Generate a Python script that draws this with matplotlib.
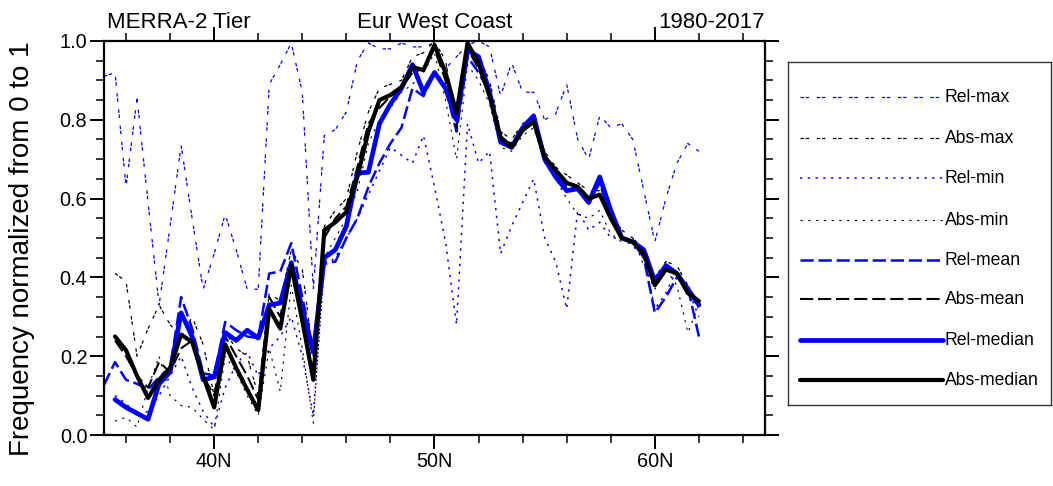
import numpy as np
import matplotlib
matplotlib.use("Agg")
import matplotlib.pyplot as plt

plt.rcParams['font.family'] = ['Liberation Sans', 'DejaVu Sans']
plt.rcParams['lines.scale_dashes'] = False

nan = np.nan

# latitude grid (degrees N), 0.5 deg spacing
lat = [35.0, 35.5, 36.0, 36.5, 37.0, 37.5, 38.0, 38.5, 39.0, 39.5,
       40.0, 40.5, 41.0, 41.5, 42.0, 42.5, 43.0, 43.5, 44.0, 44.5,
       45.0, 45.5, 46.0, 46.5, 47.0, 47.5, 48.0, 48.5, 49.0, 49.5,
       50.0, 50.5, 51.0, 51.5, 52.0, 52.5, 53.0, 53.5, 54.0, 54.5,
       55.0, 55.5, 56.0, 56.5, 57.0, 57.5, 58.0, 58.5, 59.0, 59.5,
       60.0, 60.5, 61.0, 61.5, 62.0]

rel_max = [0.91, 0.92, 0.63, 0.855, 0.59, 0.33, 0.53, 0.735, 0.55, 0.37,
           0.46, 0.56, 0.47, 0.37, 0.37, 0.89, 0.94, 0.995, 0.87, 0.37,
           0.76, 0.775, 0.82, 0.95, 0.995, 0.98, 0.98, 0.995, 0.985, 0.985,
           0.995, 0.93, 0.96, 0.99, 1.0, 0.985, 0.86, 0.945, 0.87, 0.87,
           0.80, 0.815, 0.89, 0.75, 0.70, 0.81, 0.78, 0.79, 0.75, 0.62,
           0.49, 0.60, 0.69, 0.74, 0.72]

abs_max = [nan, 0.41, 0.39, 0.20, 0.27, 0.33, 0.28, 0.25, 0.30, 0.23,
           0.10, 0.26, 0.22, 0.20, 0.10, 0.36, 0.34, 0.47, 0.42, 0.20,
           0.53, 0.57, 0.60, 0.72, 0.82, 0.88, 0.89, 0.90, 0.96, 0.97,
           1.0, 0.95, 0.80, 0.99, 0.96, 0.90, 0.77, 0.75, 0.79, 0.81,
           0.72, 0.68, 0.66, 0.64, 0.62, 0.62, 0.56, 0.52, 0.50, 0.47,
           0.40, 0.44, 0.43, 0.38, 0.33]

rel_min = [nan, 0.10, 0.08, 0.05, 0.06, 0.10, 0.15, 0.20, 0.12, 0.06,
           0.02, 0.12, 0.18, 0.21, 0.15, 0.22, 0.25, 0.30, 0.20, 0.05,
           0.43, 0.45, 0.50, 0.55, 0.61, 0.67, 0.73, 0.71, 0.69, 0.76,
           0.63, 0.49, 0.28, 0.79, 0.69, 0.72, 0.46, 0.53, 0.59, 0.65,
           0.50, 0.44, 0.32, 0.57, 0.52, 0.54, 0.50, 0.50, 0.48, 0.45,
           0.32, 0.36, 0.42, 0.37, 0.30]

abs_min = [nan, 0.035, 0.045, 0.02, 0.12, 0.20, 0.10, 0.075, 0.07, 0.04,
           0.013, 0.20, 0.16, 0.10, 0.05, 0.22, 0.11, 0.38, 0.22, 0.03,
           0.45, 0.50, 0.55, 0.62, 0.74, 0.80, 0.83, 0.87, 0.89, 0.92,
           0.97, 0.85, 0.70, 0.94, 0.90, 0.84, 0.73, 0.72, 0.76, 0.78,
           0.69, 0.65, 0.60, 0.56, 0.55, 0.57, 0.51, 0.49, 0.50, 0.43,
           0.37, 0.42, 0.38, 0.26, 0.33]

rel_mean = [0.127, 0.185, 0.14, 0.13, 0.115, 0.147, 0.17, 0.35, 0.27, 0.157,
            0.15, 0.287, 0.266, 0.25, 0.246, 0.41, 0.415, 0.487, 0.35, 0.216,
            0.437, 0.44, 0.50, 0.55, 0.63, 0.69, 0.74, 0.78, 0.88, 0.86,
            0.92, 0.88, 0.77, 0.96, 0.92, 0.87, 0.74, 0.73, 0.77, 0.80,
            0.70, 0.66, 0.63, 0.63, 0.59, 0.64, 0.55, 0.50, 0.49, 0.45,
            0.31, 0.35, 0.40, 0.375, 0.25]

abs_mean = [nan, 0.24, 0.20, 0.15, 0.12, 0.185, 0.16, 0.22, 0.24, 0.15,
            0.10, 0.25, 0.20, 0.15, 0.09, 0.35, 0.30, 0.44, 0.30, 0.16,
            0.50, 0.55, 0.58, 0.68, 0.79, 0.83, 0.86, 0.88, 0.92, 0.93,
            0.98, 0.90, 0.78, 0.98, 0.93, 0.86, 0.75, 0.74, 0.78, 0.80,
            0.71, 0.67, 0.64, 0.63, 0.60, 0.61, 0.55, 0.50, 0.49, 0.46,
            0.39, 0.42, 0.41, 0.36, 0.34]

rel_median = [nan, 0.09, 0.07, 0.055, 0.04, 0.13, 0.16, 0.31, 0.25, 0.14,
              0.147, 0.26, 0.24, 0.266, 0.246, 0.33, 0.335, 0.437, 0.32, 0.21,
              0.45, 0.47, 0.53, 0.665, 0.667, 0.79, 0.84, 0.88, 0.94, 0.87,
              0.92, 0.88, 0.80, 0.977, 0.96, 0.87, 0.744, 0.73, 0.78, 0.81,
              0.70, 0.655, 0.62, 0.625, 0.59, 0.655, 0.57, 0.50, 0.49, 0.47,
              0.39, 0.43, 0.41, 0.37, 0.33]

abs_median = [nan, 0.25, 0.215, 0.15, 0.094, 0.14, 0.17, 0.255, 0.236, 0.15,
              0.07, 0.23, 0.17, 0.115, 0.063, 0.32, 0.27, 0.43, 0.29, 0.14,
              0.52, 0.54, 0.566, 0.655, 0.77, 0.85, 0.863, 0.883, 0.934, 0.926,
              0.99, 0.92, 0.817, 0.995, 0.944, 0.86, 0.756, 0.73, 0.774, 0.795,
              0.706, 0.672, 0.64, 0.63, 0.60, 0.61, 0.55, 0.50, 0.49, 0.46,
              0.38, 0.42, 0.41, 0.36, 0.34]

labels = ["Rel-max", "Abs-max", "Rel-min", "Abs-min",
          "Rel-mean", "Abs-mean", "Rel-median", "Abs-median"]
series = [rel_max, abs_max, rel_min, abs_min,
          rel_mean, abs_mean, rel_median, abs_median]

blue = "#0000ff"
styles = [
    dict(color=blue, lw=0.9, dashes=(2.5, 1.2, 2.5, 5.5)),
    dict(color="black", lw=0.9, dashes=(2.5, 1.2, 2.5, 5.5)),
    dict(color=blue, lw=1.1, dashes=(1.6, 4.0)),
    dict(color="black", lw=0.8, dashes=(1.6, 4.0)),
    dict(color=blue, lw=1.8, dashes=(9.5, 3.5)),
    dict(color="black", lw=1.5, dashes=(9.5, 3.5)),
    dict(color=blue, lw=3.4, solid_capstyle="round"),
    dict(color="black", lw=3.0, solid_capstyle="round"),
]

W, H = 1053, 486
fig = plt.figure(figsize=(W / 100, H / 100), dpi=100)
ax = fig.add_axes([104 / W, 1 - 435 / H, (765 - 104) / W, (435 - 41) / H])

for s, st in zip(series, styles):
    ax.plot(lat, s, **st)

ax.set_xlim(35, 65)
ax.set_ylim(0, 1)
ax.set_xticks([40, 50, 60])
ax.set_xticklabels(["40N", "50N", "60N"])
ax.set_xticks(np.arange(36, 65, 2), minor=True)
ax.set_yticks([0.0, 0.2, 0.4, 0.6, 0.8, 1.0])
ax.set_yticklabels(["0.0", "0.2", "0.4", "0.6", "0.8", "1.0"])
ax.set_yticks(np.arange(0.05, 1.0, 0.05), minor=True)
ax.tick_params(which="both", direction="out", top=True, right=True,
               width=1.4, labelsize=14.3)
ax.tick_params(which="major", length=10, pad=2)
ax.tick_params(which="minor", length=5.8, width=1.1)
for sp in ax.spines.values():
    sp.set_linewidth(1.6)

fig.text(22 / W, 1 - 249 / H, "Frequency normalized from 0 to 1",
         rotation=90, fontsize=20, ha="center", va="center")
ty = 1 + 13 / 394
ax.text(0.005, ty, "MERRA-2 Tier", transform=ax.transAxes, fontsize=16,
        ha="left", va="baseline")
ax.text(0.5, ty, "Eur West Coast", transform=ax.transAxes, fontsize=16,
        ha="center", va="baseline")
ax.text(1.0, ty, "1980-2017", transform=ax.transAxes, fontsize=16,
        ha="right", va="baseline")

# legend box drawn in pixel-like coordinates
lax = fig.add_axes([788 / W, 1 - 405 / H, (1051 - 788) / W, (405 - 62) / H])
lax.set_xlim(788, 1051)
lax.set_ylim(405, 62)
lax.set_xticks([])
lax.set_yticks([])
for sp in lax.spines.values():
    sp.set_linewidth(1.0)
    sp.set_color("#333333")
rows = [97, 138, 178, 220, 260, 299, 340, 380]
for y, lab, st in zip(rows, labels, styles):
    lax.plot([800, 943], [y, y], **st)
    lax.text(945, y, lab, fontsize=12.7, ha="left", va="center")

fig.savefig("out.png", dpi=100)
